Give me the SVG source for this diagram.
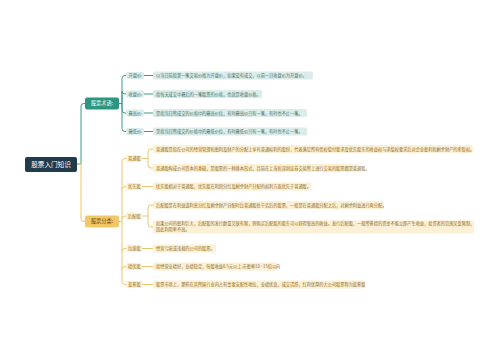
<svg xmlns="http://www.w3.org/2000/svg" width="500" height="360" viewBox="0 0 500 360">
<style>
text{font-family:"Noto Sans CJK SC","Noto Sans",sans-serif;}
.root rect{fill:#1f3b4c;}
.root text{fill:#fff;font-size:6.6px;}
.b1 rect{fill:#2a9780;}
.b1 text{fill:#fff;font-size:5.2px;}
.b2 rect{fill:#f2c766;}
.b2 text{fill:#5a4416;font-size:5.2px;}
.t rect{fill:#dcecea;}
.t text{fill:#3f7068;font-size:4.2px;}
.g rect{fill:#fcf0d6;}
.g text{fill:#8f6a22;font-size:4.2px;}
.ct{fill:none;stroke:#3f9b89;stroke-width:1;}
.cg{fill:none;stroke:#ecc66c;stroke-width:1;}
</style>
<rect width="500" height="360" fill="#fff"/>
<g id="connectors">
<path class="ct" d="M77,164 H81 V106 Q81,103.5 84,103.5 H85"/>
<path class="cg" d="M77,164 H81 V218.5 Q81,221.5 84,221.5 H85"/>
<path class="ct" d="M119,103.5 H122 V78.5 Q122,75.5 125,75.5 H126 M122,103.5 V91 Q122,94 125,94 H126 M122,103.5 V110 Q122,113 125,113 H126 M122,103.5 V128.5 Q122,131.5 125,131.5 H126"/>
<path class="ct" d="M144,75.5 H153 M144,94 H153 M144,113 H153 M144,131.5 H153"/>
<path class="cg" d="M119,221.5 H122 V161.5 Q122,158.5 125,158.5 H126 M122,189.5 Q122,186.5 125,186.5 H126 M122,219 Q122,216 125,216 H126 M122,251.5 Q122,248.5 125,248.5 H126 M122,269.5 Q122,266.5 125,266.5 H126 M122,221.5 V281.5 Q122,284.5 125,284.5 H126"/>
<path class="cg" d="M142,158.5 H148 V152 Q148,149 151,149 H153 M148,158.5 V165 Q148,168 151,168 H153"/>
<path class="cg" d="M142,186.5 H153 M142,248.5 H153 M142,266.5 H153 M142,284.5 H153"/>
<path class="cg" d="M142,216 H148 V208 Q148,205 151,205 H153 M148,216 V224 Q148,227 151,227 H153"/>
</g>
<g id="root" class="root"><rect x="25" y="157" width="52" height="15" rx="2"/><text x="51" y="166.8" text-anchor="middle">股票入门知识</text></g>
<g id="b1" class="b1"><rect x="85" y="97.5" width="34" height="12" rx="2"/><text x="102" y="105.4" text-anchor="middle">股票术语:</text></g>
<g id="b2" class="b2"><rect x="85" y="215.5" width="34" height="12" rx="2"/><text x="102" y="223.4" text-anchor="middle">股票分类:</text></g>

<g id="n-kp" class="t"><rect x="126" y="72" width="18" height="7" rx="1.5"/><text x="128.5" y="77">开盘价:</text></g>
<g id="d-kp" class="t"><rect x="153" y="71.5" width="160" height="8" rx="1.5"/><text x="156" y="77">以当日前段第一笔交易价格为开盘价，如果没有成交，以前一日收盘价为开盘价。</text></g>
<g id="n-sp" class="t"><rect x="126" y="90.5" width="18" height="7" rx="1.5"/><text x="128.5" y="95.5">收盘价:</text></g>
<g id="d-sp" class="t"><rect x="153" y="90" width="109" height="8" rx="1.5"/><text x="156" y="95.5">指每天成交中最后的一笔股票的价格，也就是收盘价格。</text></g>
<g id="n-zg" class="t"><rect x="126" y="109.5" width="18" height="7" rx="1.5"/><text x="128.5" y="114.5">最高价:</text></g>
<g id="d-zg" class="t"><rect x="153" y="109" width="154" height="8" rx="1.5"/><text x="156" y="114.5">是指当日所成交的价格中的最高价位，有时最高价只有一笔，有时也不止一笔。</text></g>
<g id="n-zd" class="t"><rect x="126" y="128" width="18" height="7" rx="1.5"/><text x="128.5" y="133">最低价:</text></g>
<g id="d-zd" class="t"><rect x="153" y="127.5" width="154" height="8" rx="1.5"/><text x="156" y="133">是指当日所成交的价格中的最低价位，有时最低价只有一笔，有时也不止一笔。</text></g>

<g id="n-pt" class="g"><rect x="126" y="155" width="16" height="7" rx="1.5"/><text x="128" y="160">普通股</text></g>
<g id="d-pt1" class="g"><rect x="153" y="145" width="320" height="8" rx="1.5"/><text x="156" y="150.5">普通股是指在公司的经营管理和盈利及财产的分配上享有普通权利的股份，代表满足所有债权偿付要求及优先股东的收益权与求偿权要求后对企业盈利和剩余财产的索取权。</text></g>
<g id="d-pt2" class="g"><rect x="153" y="164" width="206" height="8" rx="1.5"/><text x="156" y="169.5">普通股构成公司资本的基础，是股票的一种基本形式，目前在上海和深圳证券交易所上进行交易的股票都是普通股。</text></g>
<g id="n-yx" class="g"><rect x="126" y="183" width="16" height="7" rx="1.5"/><text x="128" y="188">优先股</text></g>
<g id="d-yx" class="g"><rect x="153" y="182.5" width="158" height="8" rx="1.5"/><text x="156" y="188">优先股相对于普通股，优先股在利润分红及剩余财产分配的权利方面优先于普通股。</text></g>
<g id="n-hp" class="g"><rect x="126" y="212.5" width="16" height="7" rx="1.5"/><text x="128" y="217.5">后配股</text></g>
<g id="d-hp1" class="g"><rect x="153" y="201" width="231" height="8" rx="1.5"/><text x="156" y="206.5">后配股是在利益或利息分红及剩余财产分配时比普通股处于劣后的股票，一般是在普通股分配之后，对剩余利益进行再分配。</text></g>
<g id="d-hp2" class="g"><rect x="153" y="220.5" width="321" height="13" rx="1.5"/><text x="156" y="225.2">如果公司的盈利巨大，后配股的发行数量又很有限，则购买后配股的股东可以获得很高的收益。发行后配股，一般所筹措的资金不能立即产生收益，投资者的范围又受限制，</text><text x="156" y="230.6">因此利用率不高。</text></g>
<g id="n-lj" class="g"><rect x="126" y="245" width="16" height="7" rx="1.5"/><text x="128" y="250">垃圾股</text></g>
<g id="d-lj" class="g"><rect x="153" y="244.5" width="63" height="8" rx="1.5"/><text x="156" y="250">经营亏损或违规的公司的股票。</text></g>
<g id="n-jy" class="g"><rect x="126" y="263" width="16" height="7" rx="1.5"/><text x="128" y="268">绩优股</text></g>
<g id="d-jy" class="g"><rect x="153" y="262.5" width="125" height="8" rx="1.5"/><text x="156" y="268">指经营业绩好，业绩稳定，每股收益0.5元以上,市盈率10 - 15倍以内</text></g>
<g id="n-lc" class="g"><rect x="126" y="281" width="16" height="7" rx="1.5"/><text x="128" y="286">蓝筹股</text></g>
<g id="d-lc" class="g"><rect x="153" y="280.5" width="212" height="8" rx="1.5"/><text x="156" y="286">股票市场上，那些在其所属行业内占有重要支配性地位，业绩优良，成交活跃，红利优厚的大公司股票称为蓝筹股</text></g>
</svg>
